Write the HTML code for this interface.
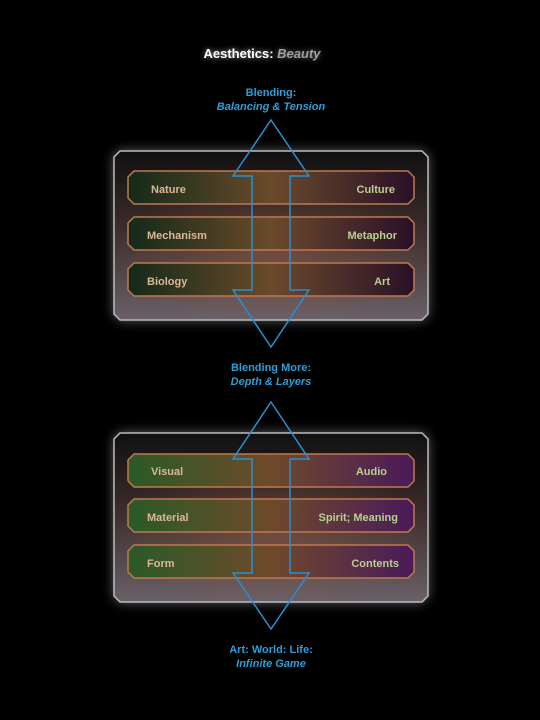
<!DOCTYPE html>
<html><head><meta charset="utf-8"><style>
html,body{margin:0;padding:0;background:#000;width:540px;height:720px;overflow:hidden}
svg{display:block}
text{font-family:"Liberation Sans",sans-serif;font-weight:bold}
</style></head><body>
<svg width="540" height="720" viewBox="0 0 540 720" xmlns="http://www.w3.org/2000/svg">
<defs>
<linearGradient id="pan" x1="0" y1="0" x2="0" y2="1">
<stop offset="0" stop-color="#101010"/><stop offset="0.45" stop-color="#3a2c2a"/><stop offset="1" stop-color="#6a6068"/>
</linearGradient>
<linearGradient id="r1" x1="0" y1="0" x2="1" y2="0">
<stop offset="0" stop-color="#132a18"/><stop offset="0.5" stop-color="#6a4a2a"/><stop offset="1" stop-color="#2a1028"/>
</linearGradient>
<linearGradient id="r2" x1="0" y1="0" x2="1" y2="0">
<stop offset="0" stop-color="#2a5a28"/><stop offset="0.5" stop-color="#6e4a2a"/><stop offset="1" stop-color="#4a1a5a"/>
</linearGradient>
<radialGradient id="warm" cx="0.5" cy="0.6" r="0.5">
<stop offset="0" stop-color="#a06040" stop-opacity="0.45"/><stop offset="1" stop-color="#a06040" stop-opacity="0"/>
</radialGradient>
<filter id="glow" x="-20%" y="-20%" width="140%" height="140%"><feGaussianBlur stdDeviation="6"/></filter>
<filter id="tg" x="-20%" y="-50%" width="140%" height="200%"><feGaussianBlur stdDeviation="3"/></filter>
</defs>

<text x="262" y="58" font-size="13" fill="#fff" text-anchor="middle" filter="url(#tg)" opacity="0.6">Aesthetics: <tspan font-style="italic" fill="#aaa">Beauty</tspan></text>
<text x="262" y="58" font-size="13" fill="#fff" text-anchor="middle">Aesthetics: <tspan font-style="italic" fill="#a0a0a0">Beauty</tspan></text>

<g fill="#2a9fd6" font-size="11" text-anchor="middle">
<text x="271" y="96">Blending:</text>
<text x="271" y="110" font-style="italic">Balancing &amp; Tension</text>
<text x="271" y="371">Blending More:</text>
<text x="271" y="385" font-style="italic">Depth &amp; Layers</text>
<text x="271" y="653">Art: World: Life:</text>
<text x="271" y="667" font-style="italic">Infinite Game</text>
</g>

<!-- panel 1 -->
<g>
<polygon points="120,151 422,151 428,157 428,314 422,320 120,320 114,314 114,157" fill="#fff" opacity="0.4" filter="url(#glow)"/>
<polygon points="120,151 422,151 428,157 428,314 422,320 120,320 114,314 114,157" fill="url(#pan)" stroke="#bbb" stroke-width="1.5"/>
<rect x="116" y="160" width="310" height="155" fill="url(#warm)"/>
<g stroke="#c07850" stroke-width="1.5" fill="url(#r1)">
<polygon points="134,171 408,171 414,177 414,198 408,204 134,204 128,198 128,177"/>
<polygon points="134,217 408,217 414,223 414,244 408,250 134,250 128,244 128,223"/>
<polygon points="134,263 408,263 414,269 414,290 408,296 134,296 128,290 128,269"/>
</g>
<g font-size="11">
<text x="151" y="193" fill="#d8b898">Nature</text><text x="395" y="193" fill="#b8d090" text-anchor="end">Culture</text>
<text x="147" y="239" fill="#d8b898">Mechanism</text><text x="397" y="239" fill="#b8d090" text-anchor="end">Metaphor</text>
<text x="147" y="285" fill="#d8b898">Biology</text><text x="390" y="285" fill="#b8d090" text-anchor="end">Art</text>
</g>
<polygon points="271,120 309,176 290,176 290,290 309,290 271,347 233,290 252,290 252,176 233,176" fill="none" stroke="#2a8fd0" stroke-width="1.5"/>
</g>

<!-- panel 2 -->
<g>
<polygon points="120,433 422,433 428,439 428,596 422,602 120,602 114,596 114,439" fill="#fff" opacity="0.4" filter="url(#glow)"/>
<polygon points="120,433 422,433 428,439 428,596 422,602 120,602 114,596 114,439" fill="url(#pan)" stroke="#bbb" stroke-width="1.5"/>
<rect x="116" y="442" width="310" height="155" fill="url(#warm)"/>
<g stroke="#c07850" stroke-width="1.5" fill="url(#r2)">
<polygon points="134,454 408,454 414,460 414,481 408,487 134,487 128,481 128,460"/>
<polygon points="134,499 408,499 414,505 414,526 408,532 134,532 128,526 128,505"/>
<polygon points="134,545 408,545 414,551 414,572 408,578 134,578 128,572 128,551"/>
</g>
<g font-size="11">
<text x="151" y="475" fill="#d8b898">Visual</text><text x="387" y="475" fill="#b8d090" text-anchor="end">Audio</text>
<text x="147" y="521" fill="#d8b898">Material</text><text x="398" y="521" fill="#b8d090" text-anchor="end">Spirit; Meaning</text>
<text x="147" y="567" fill="#d8b898">Form</text><text x="399" y="567" fill="#b8d090" text-anchor="end">Contents</text>
</g>
<polygon points="271,402 309,459 290,459 290,573 309,573 271,629 233,573 252,573 252,459 233,459" fill="none" stroke="#2a8fd0" stroke-width="1.5"/>
</g>
</svg>
</body></html>
